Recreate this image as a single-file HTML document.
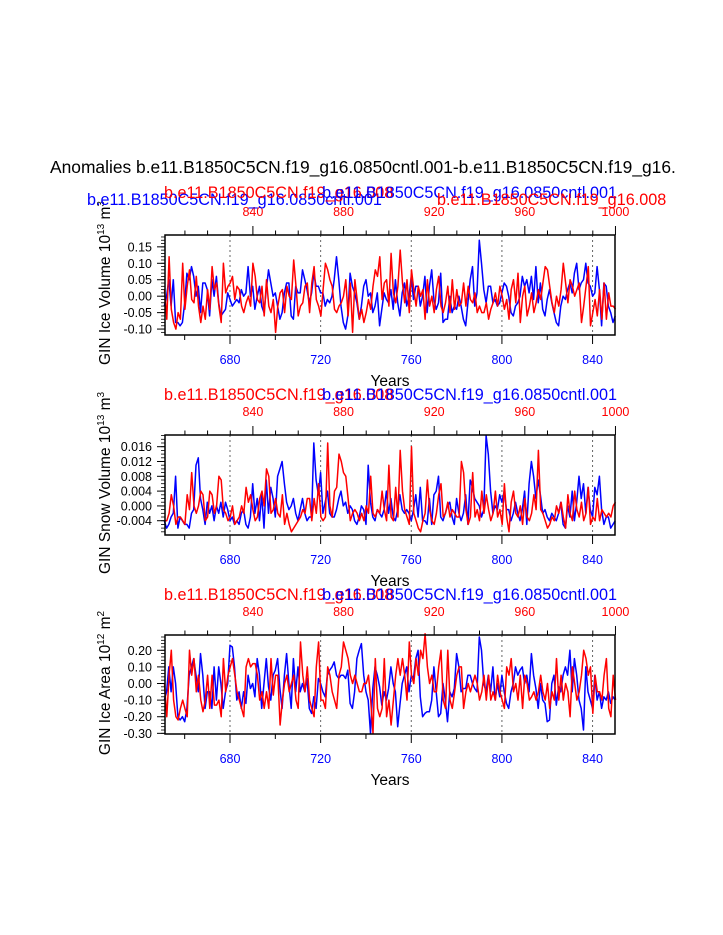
<!DOCTYPE html>
<html><head><meta charset="utf-8"><style>
html,body{margin:0;padding:0;background:#fff;}
svg{display:block;font-family:"Liberation Sans",sans-serif;}
</style></head><body>
<svg id="chart" width="723" height="935" viewBox="0 0 723 935" xmlns="http://www.w3.org/2000/svg">
<text x="50" y="173" font-size="17.4" fill="#000">Anomalies b.e11.B1850C5CN.f19_g16.0850cntl.001-b.e11.B1850C5CN.f19_g16.</text>
<g id="plots"></g>
</svg>
<script>
// Panel 1: GIN Ice Volume (units 0.01 x10^13 m^3)
const iceVolBlue=[-3,0,5,-3,5,-8,-8,-9,-8,-2,7,5,9,6,0,3,-5,4,4,2,-6,5,0,6,-2,-6,-5,-4,1,-1,-3,-2,-1,-2,2,0,1,9,0,3,-4,0,3,-3,-5,2,8,4,0,1,-3,-7,-5,1,4,4,-6,-7,3,1,1,8,5,2,-2,1,7,3,3,1,1,-3,-1,-2,0,5,12,5,-3,-8,-10,-6,7,3,1,-2,-7,-3,3,5,0,1,-5,-3,1,-9,-4,1,-1,-2,2,-4,5,-2,-6,1,4,-3,0,6,-1,3,3,-3,0,6,-5,3,8,-1,-4,-2,7,-8,-7,-7,0,-5,-3,-4,0,-3,-7,-9,-2,5,9,-3,1,17,10,2,-2,3,3,-2,-1,-3,-2,1,4,3,0,-5,-6,-3,-2,0,6,3,5,1,6,-1,9,-2,4,-4,-6,-1,2,-2,-5,-8,-9,-3,0,-1,2,4,1,7,10,2,4,5,10,4,3,0,1,9,2,-9,4,3,-3,-5,-8,-6];
const iceVolRed=[2,-7,12,-4,-8,-10,-5,-7,10,-4,3,8,-1,-2,6,-3,-8,-3,-7,2,-4,9,2,4,-3,-8,10,1,3,4,6,-1,3,2,-3,-5,-2,0,-3,10,6,-1,-2,3,-6,5,-3,-5,-1,-11,-3,1,2,-5,3,0,-1,11,3,-6,-3,-2,3,4,-5,4,9,-1,-3,-6,2,10,8,5,3,-4,-5,-3,-2,0,5,-6,4,-11,5,-1,-7,-4,-8,-5,-1,-4,3,8,6,12,-1,4,5,-3,13,1,-2,3,14,4,-2,5,-5,8,2,-3,3,0,2,-7,5,-3,0,-5,2,6,-3,-5,-2,3,-5,5,-4,2,-3,-2,4,-3,3,-1,-2,1,-5,-3,-5,-5,-2,-7,-4,-2,1,-3,3,0,-4,-1,-7,2,5,-2,7,-8,0,3,-6,-3,1,-5,-2,2,-1,4,9,8,3,-2,-5,0,-3,2,10,4,-2,5,3,0,2,4,-8,-3,3,9,-9,-5,-1,-6,2,-7,4,-7,1,-3,-3,-4];
// Panel 2: GIN Snow Volume (units 0.001 x10^13 m^3)
const snowBlue=[-4,-6,-5,-3,-2,8,-6,-3,-4,-5,-5,-6,-2,-1,11,13,2,-1,-5,1,-2,0,-4,0,-2,1,-3,1,-1,-4,-3,-5,-4,-5,-2,-1,-5,-6,-3,6,-2,2,-4,3,-6,7,-2,5,2,-3,8,10,12,6,1,-1,0,2,-2,-4,-1,2,-2,-4,-3,-3,17,7,3,9,-2,1,4,-2,-3,-3,-1,2,4,0,1,-2,0,-1,-4,-5,-3,0,-1,-5,11,1,-3,-4,-1,-2,-3,-1,4,-2,2,-3,-4,-1,3,-1,-2,-1,-2,-4,-1,3,-3,5,-4,-4,-5,2,-5,3,4,8,-3,-4,-2,0,1,-3,-5,2,-2,-4,-2,3,-5,7,5,2,1,0,-3,-1,19,14,4,-2,0,-1,3,1,4,-1,-1,-4,-2,1,-2,-4,-1,4,-5,6,12,8,2,7,3,-2,-1,-3,-4,-2,-3,-4,-2,1,-5,-6,0,-3,4,-4,1,8,2,6,-2,5,-1,-3,5,3,8,-1,-5,-3,-3,-6,-5,-4];
const snowRed=[-4,-4,-2,3,0,-5,-3,-3,-4,-5,3,-1,9,0,-2,0,4,3,-4,-3,4,3,-2,0,8,7,-1,-2,-4,-3,0,-5,-4,-3,0,-2,5,1,3,-1,-4,-3,2,4,0,10,8,-2,-1,2,-2,-3,3,-5,-2,-5,-7,-6,-5,-4,-3,-1,-2,2,2,-4,2,-2,6,-3,-4,-3,17,0,-3,4,5,14,12,9,8,2,-4,-2,-1,-2,-4,-2,-4,0,-2,8,-2,-3,-1,-2,4,-1,-4,11,-3,-4,5,-3,15,4,-1,-3,-5,16,-2,-4,-6,-7,-4,-2,7,-1,-4,-5,-2,3,6,-3,-2,1,-3,-1,-2,-3,-3,12,9,-1,-5,-3,9,-3,-1,-4,4,-2,3,-1,-4,-2,4,-3,-1,-5,6,-3,-7,1,4,-2,-3,0,-5,2,-3,-4,-2,3,-1,15,-1,-2,-4,-6,-5,-3,-4,0,-2,1,-3,-6,3,-2,-4,4,-1,-3,1,-4,-2,5,-5,-3,-4,2,-4,-1,-2,-3,-2,-3,0,1];
// Panel 3: GIN Ice Area (units 0.01 x10^12 m^2)
const areaBlue=[-10,-5,10,-5,10,0,-20,-22,-20,-23,-15,5,10,15,5,-5,18,5,-15,-5,-5,-15,10,-10,10,0,-15,-5,0,23,22,10,-10,-5,-15,-5,-12,5,-3,0,-8,15,5,-15,0,15,-2,-10,5,8,15,-3,-15,5,18,0,-15,15,-5,10,-5,0,-5,3,-15,-18,-8,-15,3,0,-5,-8,5,8,10,13,5,3,5,5,3,8,-12,-15,-5,15,20,24,5,-5,-10,-30,-3,10,5,-2,-13,-5,-10,-3,10,0,-5,-26,-13,0,5,10,-5,5,3,15,20,-8,-20,-18,-17,-17,-10,10,-5,-20,-18,0,-10,-23,-5,-8,-3,18,10,-5,-3,-3,5,5,0,-3,-5,28,20,0,-5,5,-5,10,-10,0,-8,5,-5,-12,-15,-5,0,10,5,8,10,0,5,-5,18,5,-3,-15,0,-10,-12,-23,-22,0,5,-13,-2,-5,5,10,5,20,-5,15,5,-10,-15,-28,10,-5,-10,-15,5,-10,-5,-15,-8,-10,-5,-12,-8,-10];
const areaRed=[0,-20,5,20,-10,-20,-22,-15,-10,-15,-20,20,5,15,-5,5,-10,-17,-10,5,-15,5,-13,-13,-10,-20,15,-5,5,10,15,5,-5,-10,-15,-20,10,15,10,12,12,5,-10,-5,-15,-5,-15,15,-7,5,5,-25,-10,0,5,-5,0,5,-10,-15,25,5,-5,10,-10,-15,-20,10,25,-10,-10,-15,10,5,-5,-10,-15,5,10,25,20,15,5,0,5,0,-5,-5,0,0,5,-10,-30,15,-15,-20,-15,15,-20,-10,-25,-10,5,15,5,15,5,-10,25,5,0,15,5,20,15,30,10,0,5,-5,-5,10,20,-10,-15,20,-10,-15,-5,5,10,10,-15,-5,0,-5,0,5,0,-10,-5,5,-10,5,-10,-5,-10,5,-5,-10,-15,10,5,15,-5,0,-10,5,-15,5,0,-10,-8,-5,-10,-5,5,-5,-10,0,-15,-5,-10,15,-10,5,-10,0,-5,-20,10,0,-10,-5,5,20,15,5,10,-18,5,-5,-5,-10,5,15,-15,-20,5,-10];
const blueStartYear=651, redStartYear=801;
const blueMajorTicks=[680,720,760,800,840];
const redMajorTicks=[840,880,920,960,1000];
const volTicks=["0.15","0.10","0.05","0.00","-0.05","-0.10"];
const snowTicks=["0.016","0.012","0.008","0.004","0.000","-0.004"];
const areaTicks=["0.20","0.10","0.00","-0.10","-0.20","-0.30"];

const NS="http://www.w3.org/2000/svg";
const root=document.getElementById('plots');
const L=165,R=615,PX=2.266;
function xBlue(y){return 230+(y-680)*PX;}
function xRed(y){return 252.9+(y-840)*PX;}
function mk(tag,attrs,parent){const e=document.createElementNS(NS,tag);for(const k in attrs)e.setAttribute(k,attrs[k]);(parent||root).appendChild(e);return e;}

const panels=[
 {top:235,bot:335,vmin:-0.118,vmax:0.186,scale:0.01,blue:iceVolBlue,red:iceVolRed,ticks:volTicks,minor:0.01,
  label:["GIN Ice Volume 10","13"," m","3"],lc:283,name:"ice-volume",first:true},
 {top:435,bot:535,vmin:-0.00786,vmax:0.01916,scale:0.001,blue:snowBlue,red:snowRed,ticks:snowTicks,minor:0.001,
  label:["GIN Snow Volume 10","13"," m","3"],lc:483,name:"snow-volume"},
 {top:635,bot:734,vmin:-0.304,vmax:0.292,scale:0.01,blue:areaBlue,red:areaRed,ticks:areaTicks,minor:0.02,
  label:["GIN Ice Area 10","12"," m","2"],lc:683,name:"ice-area"}
];

panels.forEach(p=>{
 const g=mk('g',{});
 
 
 const yS=v=>p.bot-(v-p.vmin)/(p.vmax-p.vmin)*(p.bot-p.top);
 blueMajorTicks.forEach(t=>{const l=mk('line',{x1:xBlue(t),x2:xBlue(t),y1:p.top,y2:p.bot,stroke:'#666','stroke-width':1,'stroke-dasharray':'2,3'},g);
  
  });
 [[p.blue,blueStartYear,xBlue,'#0000ff','blue-series'],[p.red,redStartYear,xRed,'#ff0000','red-series']].forEach(s=>{
  const pts=s[0].map((v,i)=>s[2](s[1]+i).toFixed(1)+','+yS(v*p.scale).toFixed(1)).join(' ');
  const pl=mk('polyline',{points:pts,fill:'none',stroke:s[3],'stroke-width':1.5,'stroke-linejoin':'round'},g);
  
  
 });
 const b=mk('rect',{x:L,y:p.top,width:R-L,height:p.bot-p.top,fill:'none',stroke:'#000','stroke-width':1.5},g);
 
 
 p.ticks.forEach(t=>{const v=parseFloat(t),y=yS(v);
  mk('line',{x1:L-8,x2:L,y1:y,y2:y,stroke:'#000'},g);
  const tx=mk('text',{x:L-13,y:y+4.5,'font-size':12.5,'text-anchor':'end'},g);tx.textContent=t;
  
  });
 for(let v=Math.ceil(p.vmin/p.minor)*p.minor;v<=p.vmax;v+=p.minor){const y=yS(v);mk('line',{x1:L-4,x2:L,y1:y,y2:y,stroke:'#000','stroke-width':0.8},g);}
 for(let yr=660;yr<=850;yr+=20){const x=xBlue(yr),maj=blueMajorTicks.includes(yr);
  mk('line',{x1:x,x2:x,y1:p.bot,y2:p.bot+(maj?9:5),stroke:'#000'},g);}
 blueMajorTicks.forEach(t=>{const tx=mk('text',{x:xBlue(t),y:p.bot+29,'font-size':12.5,'text-anchor':'middle',fill:'#0000ff'},g);tx.textContent=t;
  
  });
 for(let yr=810;yr<=1000;yr+=10){const x=xRed(yr),maj=redMajorTicks.includes(yr);
  mk('line',{x1:x,x2:x,y1:p.top-(maj?9:4.5),y2:p.top,stroke:'#000'},g);}
 redMajorTicks.forEach(t=>{const tx=mk('text',{x:xRed(t),y:p.top-19,'font-size':12.5,'text-anchor':'middle',fill:'#ff0000'},g);tx.textContent=t;
  
  });
 const xt=mk('text',{x:390,y:p.bot+51,'font-size':15.5,'text-anchor':'middle'},g);xt.textContent='Years';
 
 
 const yt=mk('text',{x:0,y:0,'font-size':15.5,'text-anchor':'middle',transform:'translate(110,'+p.lc+') rotate(-90)'},g);
 
 
 const s1=mk('tspan',{},yt);s1.textContent=p.label[0];
 const s2=mk('tspan',{dy:-6,'font-size':10},yt);s2.textContent=p.label[1];
 const s3=mk('tspan',{dy:6},yt);s3.textContent=p.label[2];
 const s4=mk('tspan',{dy:-6,'font-size':10},yt);s4.textContent=p.label[3];
 const sub=(txt,x,y,col,anchor,nm)=>{const t=mk('text',{x:x,y:y,'font-size':16.2,fill:col,'text-anchor':anchor},g);t.textContent=txt;
  
  };
 if(p.first){
  sub('b.e11.B1850C5CN.f19_g16.0850cntl.001',87,p.top-30,'#0000ff','start','left-blue-subtitle');
  sub('b.e11.B1850C5CN.f19_g16.008',164,p.top-37,'#ff0000','start','left-red-subtitle');
  sub('b.e11.B1850C5CN.f19_g16.0850cntl.001',617,p.top-37,'#0000ff','end','right-blue-subtitle');
  sub('b.e11.B1850C5CN.f19_g16.008',437,p.top-30,'#ff0000','start','right-red-subtitle');
 } else {
  sub('b.e11.B1850C5CN.f19_g16.008',164,p.top-35,'#ff0000','start','left-red-subtitle');
  sub('b.e11.B1850C5CN.f19_g16.0850cntl.001',617,p.top-35,'#0000ff','end','right-blue-subtitle');
 }
});
</script>
</body></html>
